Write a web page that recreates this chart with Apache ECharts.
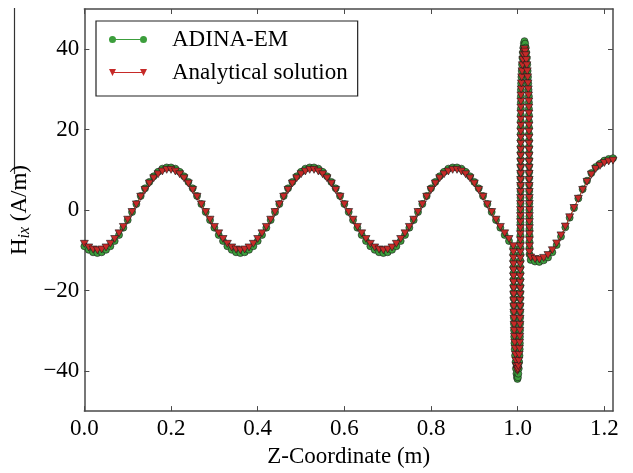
<!DOCTYPE html>
<html>
<head>
<meta charset="utf-8">
<script src="https://cdn.jsdelivr.net/npm/echarts@6/dist/echarts.min.js"></script>
<style>html,body{margin:0;padding:0;background:#fff;}#c{width:633px;height:473px;}</style>
</head>
<body>
<div id="c"></div>
<script>
// Z-coordinate (m)
const z = [
0.00,0.01,0.02,0.03,0.04,0.05,0.06,0.07,0.08,0.09,0.10,0.11,0.12,0.13,0.14,0.15,0.16,0.17,0.18,0.19,
0.20,0.21,0.22,0.23,0.24,0.25,0.26,0.27,0.28,0.29,0.30,0.31,0.32,0.33,0.34,0.35,0.36,0.37,0.38,0.39,
0.40,0.41,0.42,0.43,0.44,0.45,0.46,0.47,0.48,0.49,0.50,0.51,0.52,0.53,0.54,0.55,0.56,0.57,0.58,0.59,
0.60,0.61,0.62,0.63,0.64,0.65,0.66,0.67,0.68,0.69,0.70,0.71,0.72,0.73,0.74,0.75,0.76,0.77,0.78,0.79,
0.80,0.81,0.82,0.83,0.84,0.85,0.86,0.87,0.88,0.89,0.90,0.91,0.92,0.93,0.94,0.95,0.96,0.97,0.98,
0.9900,0.9901,0.9902,0.9903,0.9904,0.9905,0.9906,0.9907,0.9908,0.9909,0.9910,0.9912,0.9914,0.9917,0.9920,0.9925,0.9932,0.9940,0.9950,0.9960,0.9972,0.9985,0.9995,
1.0005,1.0015,1.0025,1.0035,1.0042,1.0047,1.0050,1.0052,1.0054,1.0055,1.0056,1.0057,1.0058,
1.00585,1.0059,1.00595,1.0060,1.00605,1.0061,1.00615,1.0062,1.00625,1.0063,1.00635,1.0064,1.00645,1.0065,1.00655,1.0066,1.00665,
1.0067,1.00675,1.0068,1.00685,1.0069,1.00695,1.0070,1.00705,1.0071,1.00715,1.0072,1.00725,1.0073,1.00735,1.0074,1.00745,1.0075,
1.0080,1.0086,1.0093,1.0101,1.0110,1.0120,1.0131,1.0143,1.0157,
1.0172,1.0186,1.0199,1.0211,1.0221,1.0230,1.0238,1.0245,1.0251,
1.02580,1.02586,1.02592,1.02598,1.02604,1.02610,1.02616,1.02622,1.02628,1.02634,1.02640,1.02646,1.02652,
1.02658,1.02664,1.02670,1.02676,1.02682,1.02688,1.02694,1.02700,1.02706,1.02712,1.02718,1.02724,1.02730,
1.03,1.04,1.05,1.06,1.07,1.08,1.09,1.10,1.11,1.12,1.13,1.14,1.15,1.16,1.17,1.18,1.19,1.20,1.21,1.22
];

// ADINA-EM values (A/m)
const adinaEM = [
-9.0,-9.9,-10.5,
-10.7,-10.5,-9.9,-9.0,-7.7,-6.2,-4.4,-2.5,-0.5,1.5,3.5,5.4,7.0,8.4,9.5,10.3,10.6,10.6,10.3,9.5,8.4,7.0,5.4,3.5,1.5,-0.5,-2.5,-4.4,-6.2,-7.7,-9.0,-9.9,-10.5,
-10.7,-10.5,-9.9,-9.0,-7.7,-6.2,-4.4,-2.5,-0.5,1.5,3.5,5.4,7.0,8.4,9.5,10.3,10.6,10.6,10.3,9.5,8.4,7.0,5.4,3.5,1.5,-0.5,-2.5,-4.4,-6.2,-7.7,-9.0,-9.9,-10.5,
-10.7,-10.5,-9.9,-9.0,-7.7,-6.2,-4.4,-2.5,-0.5,1.5,3.5,5.4,7.0,8.4,9.5,10.3,10.6,10.6,10.3,9.5,8.4,7.0,5.4,3.5,1.5,-0.5,-2.5,-4.4,-6.2,-7.7,
-9.4,-11.0,-12.6,-14.2,-15.7,-17.3,-18.9,-20.5,-22.0,-23.6,-25.2,-26.8,-28.3,-29.9,-31.5,-33.1,-34.6,-36.2,-37.8,-39.4,-40.7,-41.6,-42.0,
-41.6,-40.7,-39.4,-37.8,-36.2,-34.6,-33.1,-31.5,-29.9,-28.3,-26.8,-25.2,-23.6,
-22.0,-20.5,-18.9,-17.3,-15.7,-14.2,-12.6,-11.0,-9.4,-7.9,-6.3,-4.7,-3.1,-1.6,0.0,1.6,3.1,
4.7,6.3,7.9,9.4,11.0,12.6,14.2,15.7,17.3,18.9,20.5,22.0,23.6,25.2,26.8,28.3,29.9,
31.5,33.1,34.6,36.2,37.8,39.2,40.4,41.4,42.0,
41.4,40.4,39.2,37.8,36.2,34.6,33.1,31.5,29.9,
28.3,26.8,25.2,23.6,22.0,20.5,18.9,17.3,15.7,14.2,12.6,11.0,9.4,
7.9,6.3,4.7,3.1,1.6,0.0,-1.6,-3.1,-4.7,-6.3,-7.9,-9.4,-11.0,
-12.4,-12.8,-12.9,-12.5,-11.8,-10.5,-8.7,-6.6,-4.3,-1.9,0.5,2.9,5.2,7.3,9.2,10.7,11.5,12.3,12.7,12.9
];

// Analytical solution values (A/m)
const analytical = [
-8.4,-9.3,-9.8,
-10.0,-9.8,-9.3,-8.4,-7.2,-5.8,-4.2,-2.4,-0.5,1.4,3.3,5.0,6.6,7.9,8.9,9.6,10.0,10.0,9.6,8.9,7.9,6.6,5.0,3.3,1.4,-0.5,-2.4,-4.2,-5.8,-7.2,-8.4,-9.3,-9.8,
-10.0,-9.8,-9.3,-8.4,-7.2,-5.8,-4.2,-2.4,-0.5,1.4,3.3,5.0,6.6,7.9,8.9,9.6,10.0,10.0,9.6,8.9,7.9,6.6,5.0,3.3,1.4,-0.5,-2.4,-4.2,-5.8,-7.2,-8.4,-9.3,-9.8,
-10.0,-9.8,-9.3,-8.4,-7.2,-5.8,-4.2,-2.4,-0.5,1.4,3.3,5.0,6.6,7.9,8.9,9.6,10.0,10.0,9.6,8.9,7.9,6.6,5.0,3.3,1.4,-0.5,-2.4,-4.2,-5.8,-7.2,
-9.0,-10.5,-12.0,-13.5,-15.0,-16.5,-18.0,-19.5,-21.0,-22.5,-24.0,-25.5,-27.0,-28.5,-30.0,-31.5,-33.0,-34.5,-36.0,-37.5,-38.8,-39.6,-40.0,
-39.6,-38.8,-37.5,-36.0,-34.5,-33.0,-31.5,-30.0,-28.5,-27.0,-25.5,-24.0,-22.5,
-21.0,-19.5,-18.0,-16.5,-15.0,-13.5,-12.0,-10.5,-9.0,-7.5,-6.0,-4.5,-3.0,-1.5,0.0,1.5,3.0,
4.5,6.0,7.5,9.0,10.5,12.0,13.5,15.0,16.5,18.0,19.5,21.0,22.5,24.0,25.5,27.0,28.5,
30.0,31.5,33.0,34.5,36.0,37.3,38.5,39.4,40.0,
39.4,38.5,37.3,36.0,34.5,33.0,31.5,30.0,28.5,
27.0,25.5,24.0,22.5,21.0,19.5,18.0,16.5,15.0,13.5,12.0,10.5,9.0,
7.5,6.0,4.5,3.0,1.5,0.0,-1.5,-3.0,-4.5,-6.0,-7.5,-9.0,-10.5,
-11.8,-12.2,-12.3,-11.9,-11.2,-10.0,-8.3,-6.3,-4.1,-1.8,0.5,2.8,5.0,7.0,8.8,10.2,11.0,11.7,12.1,12.3
];

const xTicks = [0, 0.2, 0.4, 0.6, 0.8, 1.0, 1.2];
const yTicks = [-40, -20, 0, 20, 40];
const seriesNames = ['ADINA-EM', 'Analytical solution'];

const FONT = 'Liberation Serif';
const AX = '#4a4a4a';
const GREEN_LINE = '#2e9a2e', GREEN_FILL = '#3c9e3c';
const RED_LINE = '#d0302c', RED_FILL = '#c62a28';

const chart = echarts.init(document.getElementById('c'), null, {renderer: 'canvas'});

function axisCommon(extra) {
  return Object.assign({
    type: 'value',
    axisLine: {show: true, onZero: false, lineStyle: {color: AX, width: 1.5}},
    splitLine: {show: false}
  }, extra);
}

const circleIcon = 'path://M0,3.5A3.5,3.5,0,1,1,7,3.5A3.5,3.5,0,1,1,0,3.5ZM31,3.5A3.5,3.5,0,1,1,38,3.5A3.5,3.5,0,1,1,31,3.5ZM3.5,3L34.5,3L34.5,4L3.5,4Z';
const triIcon = 'path://M0,0L7,0L3.5,7ZM31,0L38,0L34.5,7ZM3.5,3L34.5,3L34.5,4L3.5,4Z';

const option = {
  animation: false,
  backgroundColor: '#fff',
  grid: {left: 84, right: 20, top: 9, bottom: 56, containLabel: false},
  xAxis: [
    axisCommon({
      position: 'bottom', min: 0, max: 1.22,
      axisTick: {show: true, inside: true, length: 5, customValues: xTicks, lineStyle: {color: AX, width: 1}},
      axisLabel: {show: true, customValues: xTicks, margin: 6, color: '#000', fontFamily: FONT, fontSize: 23,
        formatter: v => v.toFixed(1)},
      name: 'Z-Coordinate (m)', nameLocation: 'middle', nameGap: 26,
      nameTextStyle: {color: '#000', fontFamily: FONT, fontSize: 23}
    }),
    axisCommon({
      position: 'top', min: 0, max: 1.22,
      axisTick: {show: true, inside: true, length: 5, customValues: xTicks, lineStyle: {color: AX, width: 1}},
      axisLabel: {show: false}
    })
  ],
  yAxis: [
    axisCommon({
      position: 'left', min: -50, max: 50,
      axisTick: {show: true, inside: true, length: 5, customValues: yTicks, lineStyle: {color: AX, width: 1}},
      axisLabel: {show: true, customValues: yTicks, margin: 5, color: '#000', fontFamily: FONT, fontSize: 23,
        formatter: v => (v < 0 ? '\u2212' + Math.abs(v) : String(v))},
      name: '{a|H}{b|ix}{a| (A/m)}', nameLocation: 'middle', nameGap: 43, nameRotate: 90,
      nameTextStyle: {
        rich: {
          a: {fontFamily: FONT, fontSize: 23, color: '#000', lineHeight: 26},
          b: {fontFamily: FONT, fontSize: 16, fontStyle: 'italic', color: '#000', lineHeight: 14, verticalAlign: 'bottom'}
        }
      }
    }),
    axisCommon({
      position: 'right', min: -50, max: 50,
      axisTick: {show: true, inside: true, length: 5, customValues: yTicks, lineStyle: {color: AX, width: 1}},
      axisLabel: {show: false}
    })
  ],
  legend: {
    left: 96, top: 21, orient: 'vertical',
    itemWidth: 38, itemHeight: 7, itemGap: 10,
    padding: [7, 10, 12, 13],
    borderColor: '#222', borderWidth: 1.2, borderRadius: 0,
    backgroundColor: '#fff',
    itemStyle: {borderWidth: 0, borderColor: 'transparent'},
    textStyle: {color: '#000', fontFamily: FONT, fontSize: 23, lineHeight: 23, padding: [0, 0, 0, 20]},
    data: [
      {name: seriesNames[0], icon: circleIcon, itemStyle: {color: GREEN_FILL, borderWidth: 0, borderColor: 'transparent'},
       lineStyle: {color: GREEN_LINE, width: 1}},
      {name: seriesNames[1], icon: triIcon, itemStyle: {color: RED_FILL, borderWidth: 0, borderColor: 'transparent'},
       lineStyle: {color: RED_LINE, width: 1}}
    ]
  },
  graphic: [
    {type: 'line', shape: {x1: 14.5, y1: 8, x2: 14.5, y2: 174}, style: {stroke: '#333', lineWidth: 1.2}, silent: true}
  ],
  series: [
    {
      name: seriesNames[0], type: 'line', xAxisIndex: 0, yAxisIndex: 0,
      data: z.map((x, i) => [x, adinaEM[i]]),
      symbol: 'circle', symbolSize: 7,
      lineStyle: {color: GREEN_LINE, width: 1},
      itemStyle: {color: GREEN_FILL, borderColor: '#1a1a1a', borderWidth: 0.6},
      emphasis: {disabled: true}, z: 2
    },
    {
      name: seriesNames[1], type: 'line', xAxisIndex: 0, yAxisIndex: 0,
      data: z.map((x, i) => [x, analytical[i]]),
      symbol: 'triangle', symbolRotate: 180, symbolSize: [8, 7],
      lineStyle: {color: RED_LINE, width: 1},
      itemStyle: {color: RED_FILL, borderColor: '#1a1a1a', borderWidth: 0.6},
      emphasis: {disabled: true}, z: 3
    }
  ]
};
chart.setOption(option);
</script>
</body>
</html>
